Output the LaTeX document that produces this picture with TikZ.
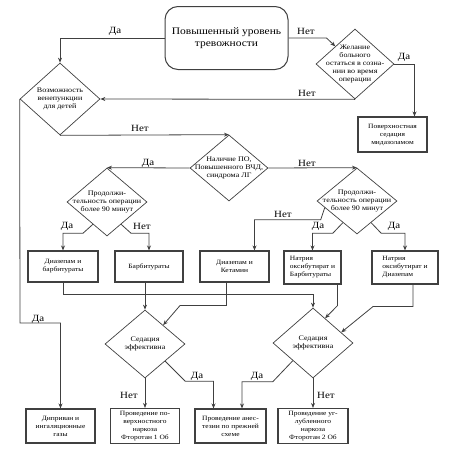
\documentclass[tikz,border=0pt]{standalone}
\usepackage{fontspec}
\setmainfont{Liberation Serif}[FakeStretch=1.15]
\usetikzlibrary{shapes.geometric,arrows.meta,calc}

\begin{document}
\begin{tikzpicture}[x=1pt,y=1pt,yscale=-1,
  line/.style={draw=black!75,line width=0.8pt},
  arr/.style={line,-{Stealth[length=5pt,width=4pt]}},
  box/.style={draw=black!75,line width=1.1pt,align=center,inner sep=1pt,font=\fontsize{6.5}{8}\selectfont},
  decide/.style={draw=black!75,line width=0.7pt,diamond,inner sep=0pt},
  txt/.style={align=center,inner sep=0pt,font=\fontsize{7}{7.8}\selectfont},
  lab/.style={inner sep=0pt,font=\fontsize{9.5}{10}\selectfont}]
\useasboundingbox (0,0) rectangle (450,463);

%Shape: Rounded Rectangle
\node[draw=black!75,line width=1pt,rounded corners=13pt,minimum width=123pt,minimum height=63pt,align=center,font=\fontsize{10}{12}\selectfont] (anx) at (226.5,38) {Повышенный уровень\\тревожности};

%Shape: Diamond
\node[decide,minimum width=80pt,minimum height=72pt,label={[txt]center:{Возможность\\венепункции\\для детей}}] (vein) at (60,99) {};
\node[decide,minimum width=78pt,minimum height=70pt,label={[txt]center:{Желание\\больного\\остаться в созна-\\нии во время\\операции}}] (wish) at (355,64) {};
\node[decide,minimum width=78pt,minimum height=66pt,label={[txt]center:{Наличие ПО,\\Повышенного ВЧД,\\синдрома ЛГ}}] (risk) at (229,168) {};
\node[decide,minimum width=80pt,minimum height=68pt,label={[txt]center:{Продолжи-\\тельность операции\\более 90 минут}}] (longL) at (107,202) {};
\node[decide,minimum width=80pt,minimum height=66pt,label={[txt]center:{Продолжи-\\тельность операции\\более 90 минут}}] (longR) at (357,201) {};
\node[decide,minimum width=80pt,minimum height=68pt,label={[txt]center:{Седация\\эффективна}}] (effL) at (145,344) {};
\node[decide,minimum width=80pt,minimum height=70pt,label={[txt]center:{Седация\\эффективна}}] (effR) at (313,343) {};

%Shape: Rectangle
\node[box,minimum width=69pt,minimum height=35pt] (light) at (392.5,134.5) {Поверхностная\\седация\\мидазоламом};
\node[box,minimum width=70pt,minimum height=31pt] (dzb) at (63,266.5) {Диазепам и\\барбитураты};
\node[box,minimum width=68pt,minimum height=31pt] (brb) at (149,266.5) {Барбитураты};
\node[box,minimum width=69pt,minimum height=31pt] (dzk) at (234.5,266.5) {Диазепам и\\Кетамин};
\node[box,minimum width=57pt,minimum height=33pt,align=left] (oxb) at (312.5,267.5) {Натрия\\оксибутират и\\Барбитураты};
\node[box,minimum width=66pt,minimum height=33pt,align=left] (oxd) at (405,267.5) {Натрия\\оксибутират и\\Диазепам};
\node[box,minimum width=69pt,minimum height=34pt] (dip) at (60.5,426) {Диприван и\\ингаляционные\\газы};
\node[box,minimum width=69pt,minimum height=35pt] (shal) at (145,426) {Проведение по-\\верхностного\\наркоза\\Фторотан 1 Об};
\node[box,minimum width=71pt,minimum height=34pt] (same) at (230.5,426) {Проведение анес-\\тезии по прежней\\схеме};
\node[box,minimum width=70pt,minimum height=35pt] (deep) at (313,426) {Проведение уг-\\лубленного\\наркоза\\Фторотан 2 Об};

%Connectors
\coordinate (kneeA) at (20,323);
\draw[arr] (anx.west) -| (vein.north);
\draw[arr] (anx.east) -- ++(38,0) -- (wish.north west);
\draw[arr] (wish.east) -| ([xshift=22pt]light.north);
\draw[arr] (wish.south) -- (vein.east);
\draw[arr] (vein.south) -- (risk.north);
\draw[arr] (vein.west) -- (kneeA) -| (dip.north);
\draw[arr] (risk.west) -- (longL.north);
\draw[arr] (risk.east) -- (longR.north);
\draw[arr] ($(longL.west)!0.65!(longL.south)$) -- ++(-10,9) -| (dzb.north);
\draw[arr] ($(longL.east)!0.65!(longL.south)$) -- ++(10,9) -| (brb.north);
\draw[arr] ($(longR.west)!0.2!(longR.south)$) -- ++(-4,12) -| ([xshift=20pt]dzk.north);
\draw[arr] ($(longR.west)!0.65!(longR.south)$) -- ++(-10,10.5) -| (oxb.north);
\draw[arr] ($(longR.east)!0.65!(longR.south)$) -- ++(10,10.5) -| (oxd.north);
\draw[arr] (dzb.south) -- ++(0,12) -| (effR.north);
\draw[arr] (brb.south -| effL.north) -- (effL.north);
\draw[arr] ([xshift=-8pt]dzk.south) -- ++(0,23) -- ++(-46.5,0) -- ($(effL.north)!0.45!(effL.east)$);
\draw[arr] ([xshift=-4pt]oxb.south east) -- ++(0,21) -- ($(effR.north)!0.3!(effR.east)$);
\draw[arr] ([xshift=8pt]oxd.south) -- ++(0,22) -- ++(-40,0) -- ($(effR.north)!0.7!(effR.east)$);
\draw[arr] (effL.south) -- (shal.north);
\draw[arr] ($(effL.east)!0.5!(effL.south)$) -- ++(20,20) -| ([xshift=-17pt]same.north);
\draw[arr] ($(effR.west)!0.5!(effR.south)$) -- ++(-20,21) -| ([xshift=11.5pt]same.north);
\draw[arr] (effR.south) -- (deep.north);

% Text Node
\node[lab] (yesA) at (115,31) {Да};
\node[lab] (noA) at (306,31) {Нет};
\node[lab] (yesB) at (404,57) {Да};
\node[lab] (noB) at (307,93) {Нет};
\node[lab] (noC) at (140,128) {Нет};
\node[lab] (yesC) at (38,319) {Да};
\node[lab] (yesD) at (148,163) {Да};
\node[lab] (noD) at (307,163) {Нет};
\node[lab] (yesE) at (67,226) {Да};
\node[lab] (noE) at (142,226) {Нет};
\node[lab] (noF) at (283,214) {Нет};
\node[lab] (yesF) at (318,226) {Да};
\node[lab] (yesG) at (394,226) {Да};
\node[lab] (yesH) at (197,376) {Да};
\node[lab] (noH) at (129,395) {Нет};
\node[lab] (yesI) at (257,376) {Да};
\node[lab] (noI) at (326,395) {Нет};

\end{tikzpicture}
\end{document}
